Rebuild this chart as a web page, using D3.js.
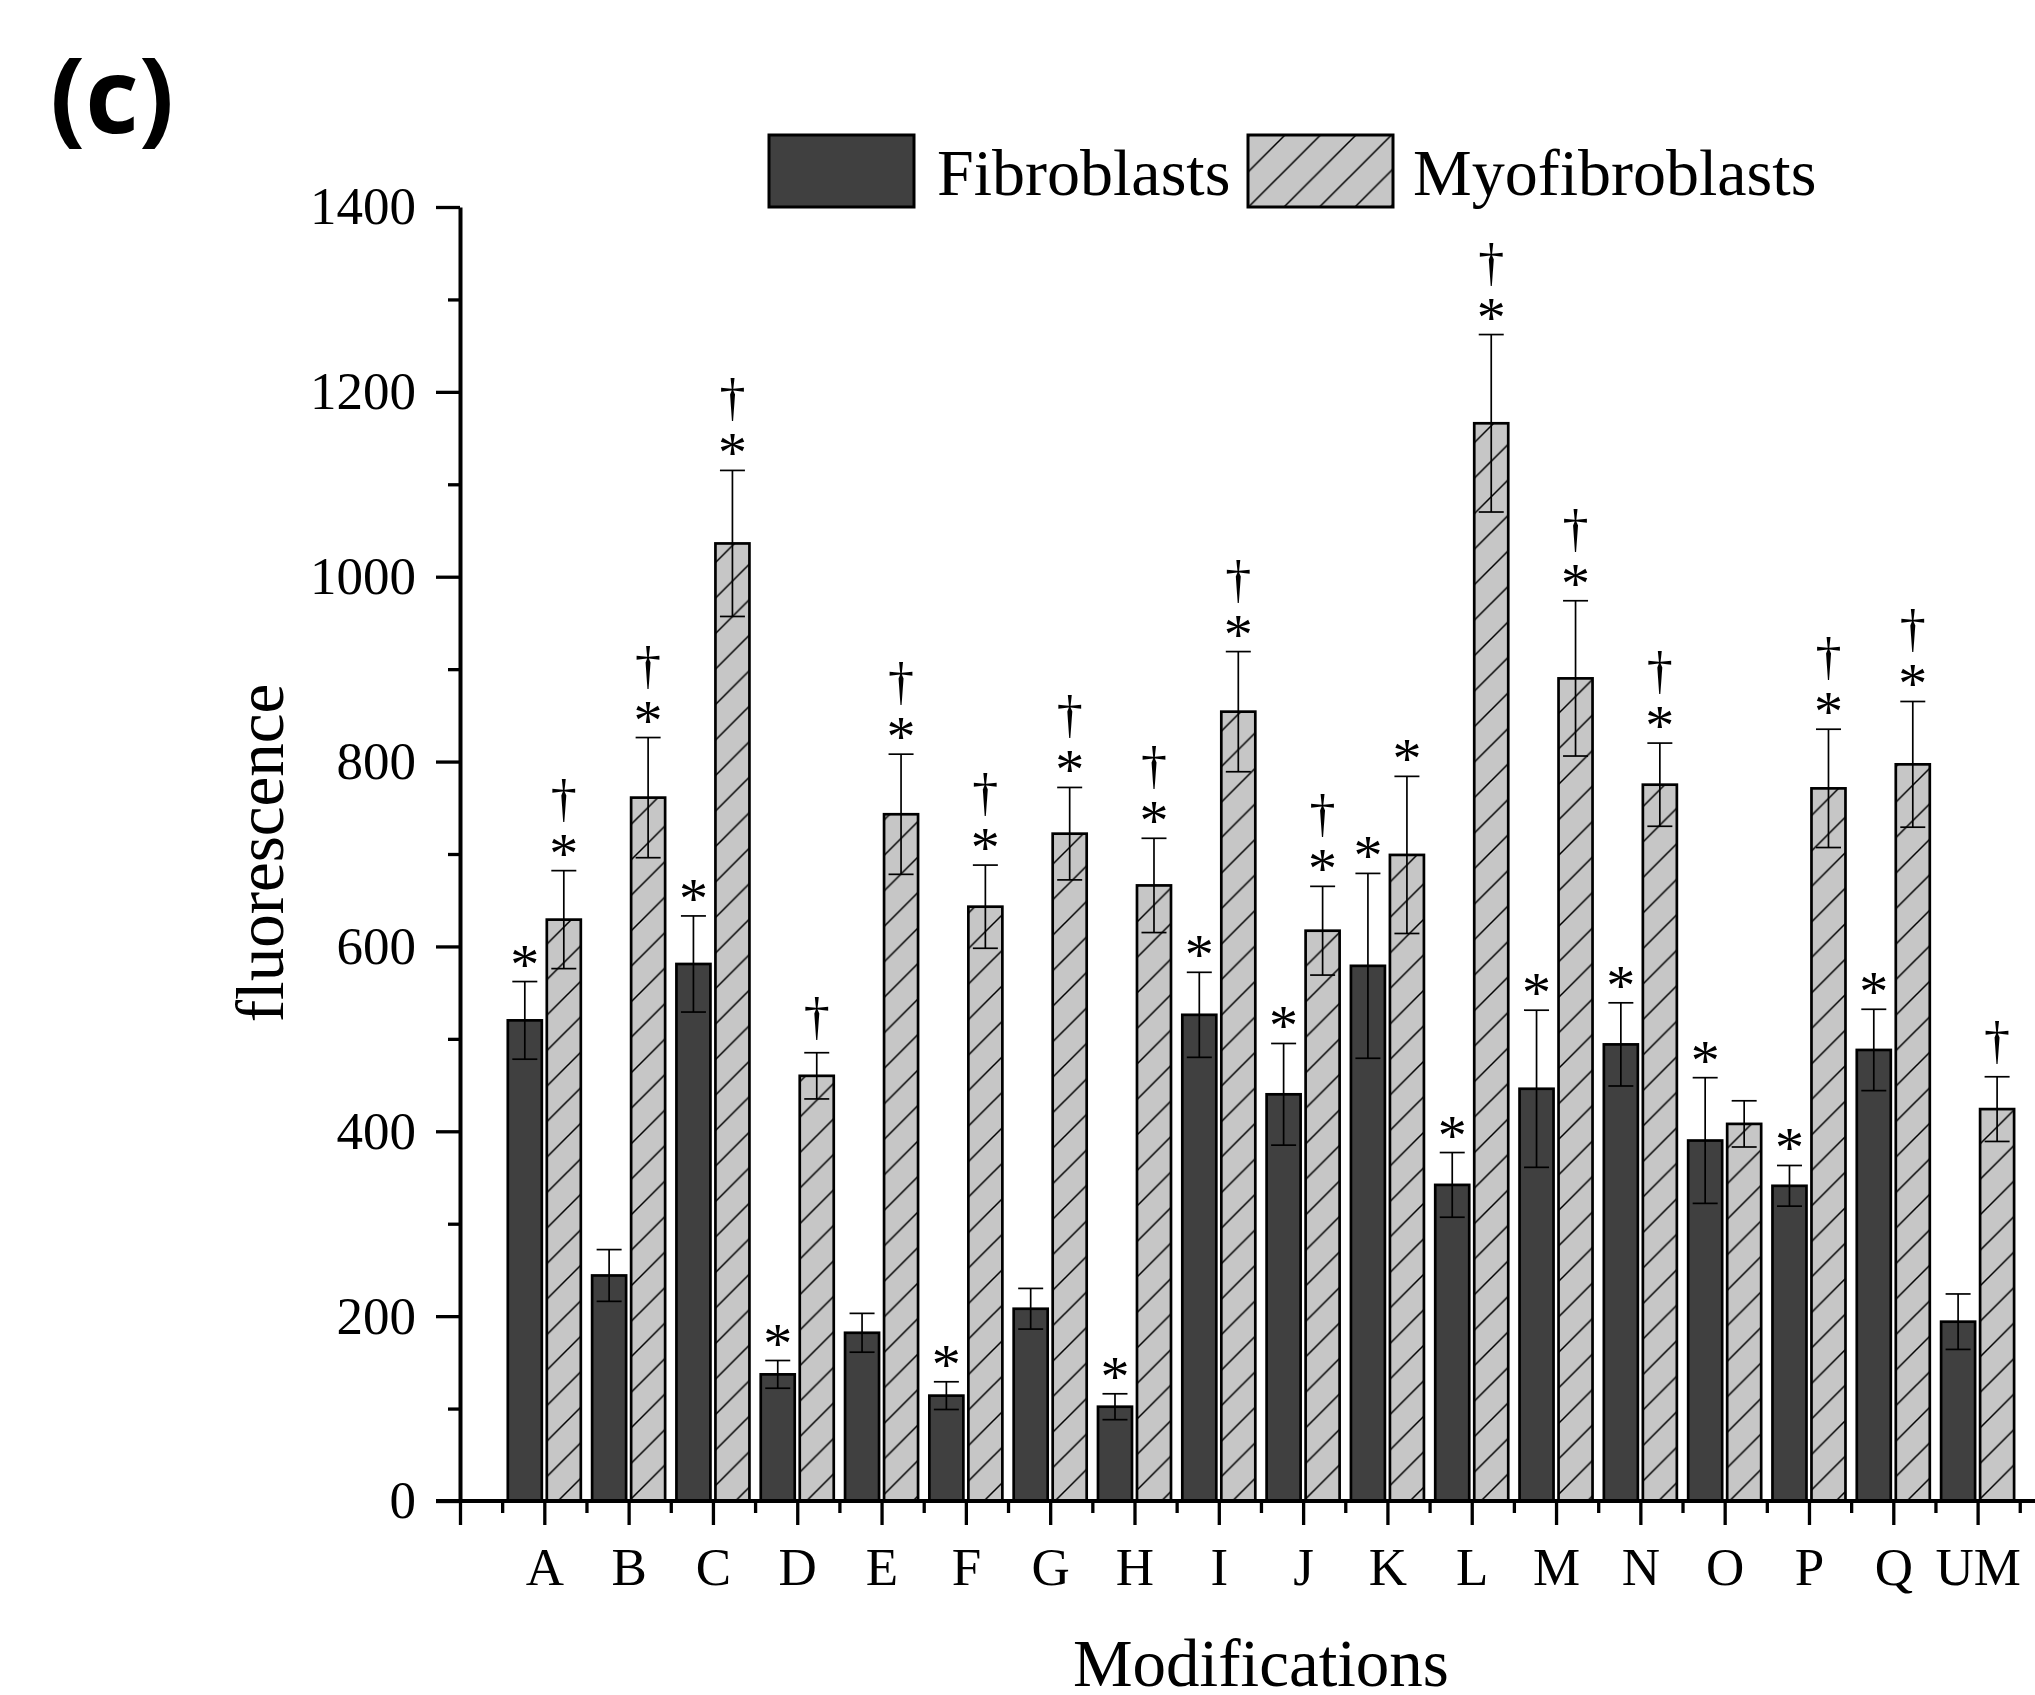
<!DOCTYPE html>
<html>
<head>
<meta charset="utf-8">
<script src="https://cdn.jsdelivr.net/npm/d3@7"></script>
<style>
  body { margin: 0; background: #fff; }
  svg { display: block; }
</style>
</head>
<body>
<svg id="chart" width="2035" height="1695"></svg>
<script>
// modifications on the x axis
const categories = ["A","B","C","D","E","F","G","H","I","J","K","L","M","N","O","P","Q","UM"];

// fluorescence, fibroblasts
const fibroMean = [520, 244, 581, 137, 182, 114, 208, 102, 526, 440, 579, 342, 446, 494, 390, 341, 488, 194];
const fibroErr  = [42, 28, 52, 15, 21, 15, 22, 14, 46, 55, 100, 35, 85, 45, 68, 22, 44, 30];

// fluorescence, myofibroblasts
const myoMean = [629, 761, 1036, 460, 743, 643, 722, 666, 854, 617, 699, 1166, 890, 775, 408, 771, 797, 424];
const myoErr  = [53, 65, 79, 25, 65, 45, 50, 51, 65, 48, 85, 96, 84, 45, 25, 64, 68, 35];

// significance marks above the error bars
const fibroSig = ["*","","*","*","","*","","*","*","*","*","*","*","*","*","*","*",""];
const myoSig   = ["*†","*†","*†","†","*†","*†","*†","*†","*†","*†","*","*†","*†","*†","","*†","*†","†"];

const yTicks = [0, 200, 400, 600, 800, 1000, 1200, 1400];
const yMinorTicks = [100, 300, 500, 700, 900, 1100, 1300];

const serif = "'Liberation Serif', 'Times New Roman', serif";
const svg = d3.select("#chart");

// category index -> pixel (0 sits on the y axis, categories at 1..18)
const x = d3.scaleLinear().domain([0, 18]).range([460, 1977.6]);
const y = d3.scaleLinear().domain([0, 1400]).range([1501, 207]);

const barW = 34;     // bar width (without stroke)
const offset = 19.5; // bar centre distance from tick

// hatch pattern for myofibroblasts
const defs = svg.append("defs");
const hatch = defs.append("pattern")
    .attr("id", "hatch")
    .attr("patternUnits", "userSpaceOnUse")
    .attr("width", 35.5)
    .attr("height", 35.5);
hatch.append("rect").attr("width", 35.5).attr("height", 35.5).attr("fill", "#c6c6c6");
hatch.append("path")
    .attr("d", "M0,35.5 L35.5,0 M-8,8 L8,-8 M27.5,43.5 L43.5,27.5")
    .attr("stroke", "#000")
    .attr("stroke-width", 1.5);

const rows = categories.map((c, i) => ({
    name: c,
    idx: i + 1,
    fibro: fibroMean[i], fibroE: fibroErr[i], fibroS: fibroSig[i],
    myo: myoMean[i], myoE: myoErr[i], myoS: myoSig[i]
}));

// flatten into bars
const bars = [];
rows.forEach(r => {
    bars.push({ idx: r.idx, value: r.fibro, err: r.fibroE, sig: r.fibroS, cx: x(r.idx) - offset, kind: "fibro" });
    bars.push({ idx: r.idx, value: r.myo, err: r.myoE, sig: r.myoS, cx: x(r.idx) + offset, kind: "myo" });
});

const plot = svg.append("g");

plot.selectAll(".bar")
    .data(bars)
    .enter().append("rect")
    .attr("class", "bar")
    .attr("x", d => d.cx - barW / 2)
    .attr("width", barW)
    .attr("y", d => y(d.value))
    .attr("height", d => y(0) - y(d.value))
    .attr("fill", d => d.kind === "fibro" ? "#404040" : "url(#hatch)")
    .attr("stroke", "#000")
    .attr("stroke-width", 2.7);

// error bars
const err = plot.selectAll(".err")
    .data(bars)
    .enter().append("g")
    .attr("class", "err")
    .attr("stroke", "#000")
    .attr("stroke-width", 1.7);
err.append("line")
    .attr("x1", d => d.cx).attr("x2", d => d.cx)
    .attr("y1", d => y(d.value + d.err)).attr("y2", d => y(d.value - d.err));
err.append("line")
    .attr("x1", d => d.cx - 12.5).attr("x2", d => d.cx + 12.5)
    .attr("y1", d => y(d.value + d.err)).attr("y2", d => y(d.value + d.err));
err.append("line")
    .attr("x1", d => d.cx - 12.5).attr("x2", d => d.cx + 12.5)
    .attr("y1", d => y(d.value - d.err)).attr("y2", d => y(d.value - d.err));

// significance markers
bars.forEach(d => {
    const top = y(d.value + d.err);
    const star = d.sig.includes("*");
    if (star) {
        plot.append("text").attr("x", d.cx).attr("y", top + 2)
            .attr("text-anchor", "middle").style("font-family", serif)
            .attr("font-size", 58).text("*");
    }
    if (d.sig.includes("†")) {
        plot.append("text").attr("x", d.cx).attr("y", top - (star ? 55 : 19))
            .attr("text-anchor", "middle").style("font-family", serif)
            .attr("font-size", 52).text("†");
    }
});

// y axis
const yAxis = svg.append("g")
    .attr("transform", "translate(460,0)")
    .call(d3.axisLeft(y).tickValues(yTicks).tickSize(24).tickSizeOuter(0).tickPadding(20)
        .tickFormat(d3.format("d")));
yAxis.selectAll("text").attr("font-size", 53).style("font-family", serif);
svg.append("g")
    .attr("transform", "translate(460,0)")
    .call(d3.axisLeft(y).tickValues(yMinorTicks).tickSize(12).tickFormat(""))
    .select(".domain").remove();

// x axis
const xAxis = svg.append("g")
    .attr("transform", "translate(0,1501)")
    .call(d3.axisBottom(x).tickValues(d3.range(0, 19)).tickSize(24).tickSizeOuter(0).tickPadding(22)
        .tickFormat(i => i === 0 ? "" : categories[i - 1]));
xAxis.select(".domain").remove();
xAxis.selectAll("text").attr("font-size", 53).style("font-family", serif);
svg.append("g")
    .attr("transform", "translate(0,1501)")
    .call(d3.axisBottom(x).tickValues(d3.range(0.5, 19, 1)).tickSize(12).tickFormat(""))
    .select(".domain").remove();
svg.append("line")
    .attr("x1", 436).attr("x2", 2035)
    .attr("y1", 1501).attr("y2", 1501)
    .attr("stroke", "#000").attr("stroke-width", 4);

svg.selectAll(".tick line").attr("stroke-width", 3.3);
svg.selectAll(".domain").attr("stroke-width", 4);

// axis titles
svg.append("text")
    .attr("transform", "translate(283,853) rotate(-90)")
    .attr("text-anchor", "middle")
    .style("font-family", serif)
    .attr("font-size", 67)
    .text("fluorescence");
svg.append("text")
    .attr("x", 1261).attr("y", 1686)
    .attr("text-anchor", "middle")
    .style("font-family", serif)
    .attr("font-size", 67)
    .text("Modifications");

// legend
const legend = svg.append("g").style("font-family", serif);
legend.append("rect").attr("x", 769).attr("y", 135).attr("width", 145).attr("height", 72)
    .attr("fill", "#404040").attr("stroke", "#000").attr("stroke-width", 3);
legend.append("text").attr("x", 937).attr("y", 195).attr("font-size", 66).text("Fibroblasts");
legend.append("rect").attr("x", 1248).attr("y", 135).attr("width", 145).attr("height", 72)
    .attr("fill", "url(#hatch)").attr("stroke", "#000").attr("stroke-width", 3);
legend.append("text").attr("x", 1413).attr("y", 195).attr("font-size", 66).text("Myofibroblasts");

// panel label
svg.append("text")
    .attr("x", 50).attr("y", 133)
    .style("font-family", "'Open Sans', sans-serif")
    .attr("font-weight", "bold")
    .attr("font-size", 104)
    .text("(c)");
</script>
</body>
</html>
